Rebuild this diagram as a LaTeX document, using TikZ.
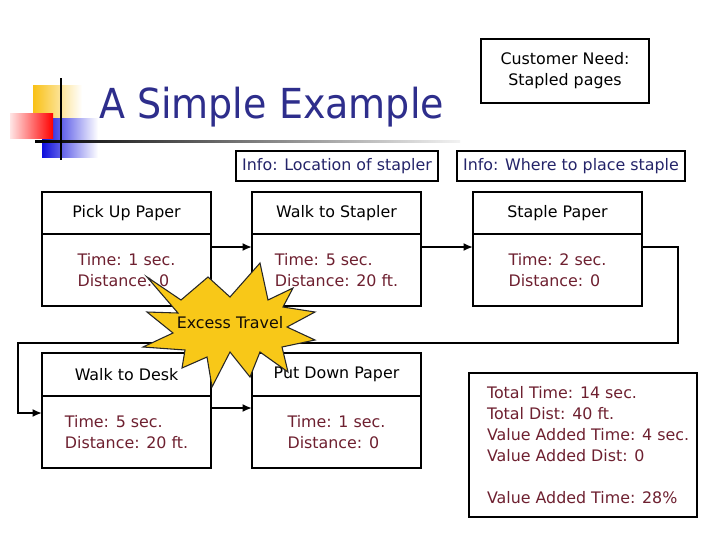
\documentclass[tikz,border=0pt]{standalone}
\usepackage{fontspec}
\setmainfont{DejaVu Sans}
\newfontfamily\titlefont[FakeStretch=0.92]{DejaVu Sans}
\usetikzlibrary{positioning, arrows.meta}

\definecolor{titleblue}{RGB}{46,46,140}
\definecolor{infoblue}{RGB}{36,36,105}
\definecolor{datared}{RGB}{110,32,48}
\definecolor{burstgold}{RGB}{248,200,24}

\begin{document}
\begin{tikzpicture}[
    x=0.75pt, y=-0.75pt,
    line width=1.5pt,
    every node/.style={font=\fontsize{11.9}{15.75}\selectfont, inner sep=0pt},
    head/.style={draw, outer sep=0pt, minimum width=126.75pt, minimum height=31.5pt, anchor=north west},
    body/.style={draw, outer sep=0pt, minimum width=126.75pt, minimum height=54pt, align=left, text=datared},
    info/.style={draw, text=infoblue, minimum height=22.5pt, anchor=north west},
    flow/.style={-{Latex[length=7pt, width=6pt]}}
]

\useasboundingbox[fill=white] (0,0) rectangle (720,540);

% logo squares and rules
\shade[left color=burstgold!90!orange, right color=white] (33,85) rectangle (82,117);
\shade[left color=blue!70!titleblue, right color=white] (42,118) rectangle (98,157);
\shade[left color=red!10, right color=red] (10,113) rectangle (53,138);
\shade[left color=black, right color=gray!10] (35,140) rectangle (460,142.5);
\draw[line width=2.2pt] (61,78) -- (61,160);

\node[anchor=base west, text=titleblue, font=\titlefont\fontsize{31}{37}\selectfont] (title) at (98,118) {A Simple Example};

\node[draw, align=center, minimum width=126pt, minimum height=48pt, anchor=north west] (need) at (480,38)
    {Customer Need:\\Stapled pages};

\node[info, minimum width=151.5pt] (infoloc) at (235,150) {Info: Location of stapler};
\node[info, minimum width=171pt] (infoplace) at (456,150) {Info: Where to place staple};

% first row
\node[head] (pickh) at (42,192) {Pick Up Paper};
\node[body, below=0pt of pickh] (pickb) {Time: 1 sec.\\Distance: 0};

\node[head] (walkh) at (252,192) {Walk to Stapler};
\node[body, below=0pt of walkh] (walkb) {Time: 5 sec.\\Distance: 20 ft.};

\node[head] (stapleh) at (473,192) {Staple Paper};
\node[body, below=0pt of stapleh] (stapleb) {Time: 2 sec.\\Distance: 0};

% second row
\node[head, minimum height=32.25pt] (deskh) at (42,353) {Walk to Desk};
\node[body, below=0pt of deskh] (deskb) {Time: 5 sec.\\Distance: 20 ft.};

\node[head, minimum height=32.25pt] (puth) at (252,353) {Put Down Paper};
\node[body, below=0pt of puth] (putb) {Time: 1 sec.\\Distance: 0};

\node[draw, text=datared, anchor=north west, inner xsep=0pt, minimum width=171pt,
      minimum height=108pt] (total) at (468,372)
    {\hspace*{13.5pt}\parbox[c]{157.5pt}{\raggedright Total Time: 14 sec.\\Total Dist: 40 ft.\\Value Added Time: 4 sec.\\Value Added Dist: 0\\[15.75pt]Value Added Time: 28\%}};

\coordinate (loopr) at (678,343);
\coordinate (loopl) at (18,343);

\draw[flow] ([yshift=-9.75pt]pickb.north east) -- ([yshift=-9.75pt]walkb.north west);
\draw[flow] ([yshift=-9.75pt]walkb.north east) -- ([yshift=-9.75pt]stapleb.north west);
\draw[flow] ([yshift=-9.75pt]stapleb.north east) -| (loopr) -- (loopl) |- ([yshift=-12.75pt]deskb.north west);
\draw[flow] ([yshift=-9pt]deskb.north east) -- ([yshift=-9pt]putb.north west);

% burst over the boxes
\filldraw[fill=burstgold, draw=black!85, line width=0.8pt]
    (147,277) -- (181,300) -- (208,277) -- (230,297) -- (260,263) -- (268,300)
    -- (293,288) -- (283,307) -- (315,312) -- (287,327) -- (315,340) -- (282,347)
    -- (288,372) -- (260,352) -- (250,377) -- (230,352) -- (212,387) -- (207,357)
    -- (182,368) -- (185,350) -- (143,347) -- (173,333) -- (147,312) -- (178,313) -- cycle;
\node[text=black!90!brown] (excess) at (230,323) {Excess Travel};

\end{tikzpicture}
\end{document}
